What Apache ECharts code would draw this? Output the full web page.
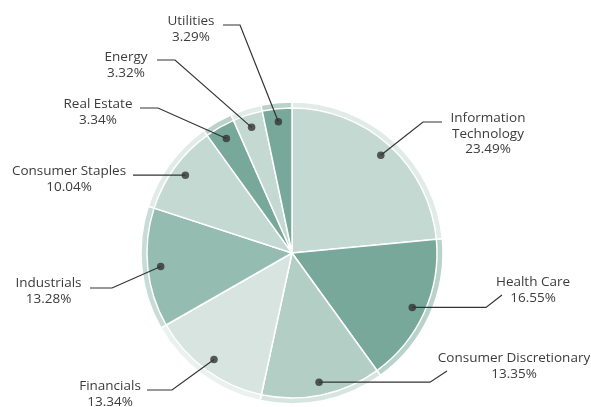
<!DOCTYPE html>
<html>
<head>
<meta charset="utf-8">
<script src="https://cdn.jsdelivr.net/npm/echarts@6/dist/echarts.min.js"></script>
<style>
html,body{margin:0;padding:0;background:#fff;}
#chart{width:591px;height:407px;}
</style>
</head>
<body>
<div id="chart"></div>
<script>
// ---- data ----
var categories = ['Information Technology','Health Care','Consumer Discretionary','Financials','Industrials','Consumer Staples','Real Estate','Energy','Utilities'];
var labelNames = ['Information\nTechnology','Health Care','Consumer Discretionary','Financials','Industrials','Consumer Staples','Real Estate','Energy','Utilities'];
var values = [23.49,16.55,13.35,13.34,13.28,10.04,3.34,3.32,3.29];

// ---- styling / layout (not data) ----
var colors = ['#c5d9d3','#78a899','#b2cec5','#d7e4e0','#94bcb0','#c5d9d3','#78a899','#c5d9d3','#78a899'];
var labelCenters = [[488,134],[533,290],[514,366],[110,394],[48.5,291],[69,179],[98,112],[126,65],[191,29]];
var lineBends = [
  [[423,122],[442,122]],
  [[486,null],[502,295]],
  [[430,null],[447,371]],
  [[172,390],[147,390]],
  [[112,288],[90,288]],
  [[150,null],[133,null]],
  [[158,108],[140,108]],
  [[175,60],[157,60]],
  [[240,25],[223,25]]
];
var CX = 292, CY = 253, R_OUT = 151, R_IN = 145, R_DOT = 132;

function hexA(h,a){var r=parseInt(h.slice(1,3),16),g=parseInt(h.slice(3,5),16),b=parseInt(h.slice(5,7),16);return 'rgba('+r+','+g+','+b+','+a+')';}

var total = values.reduce(function(s,v){return s+v;},0);
var cum = 0;
var dotData = values.map(function(v){var mid = (cum + v/2)/total*100; cum += v; return [R_DOT, mid];});

var ringData = categories.map(function(c,i){return {name:c, value:values[i], itemStyle:{color:hexA(colors[i],0.52)}};});
var mainData = categories.map(function(c,i){return {name:c, value:values[i], itemStyle:{color:colors[i]}};});
var labelData = categories.map(function(c,i){return {name:c, value:values[i], label:{formatter: labelNames[i] + '\n' + values[i].toFixed(2) + '%'}};});

var chart = echarts.init(document.getElementById('chart'), null, {renderer:'canvas'});
chart.setOption({
  animation:false,
  backgroundColor:'#ffffff',
  polar:{center:[CX,CY], radius:R_OUT},
  angleAxis:{type:'value', min:0, max:100, startAngle:90, clockwise:true, show:false},
  radiusAxis:{type:'value', min:0, max:R_OUT, show:false},
  series:[
    {type:'pie', center:[CX,CY], radius:[0,R_OUT], startAngle:90, clockwise:true, silent:true,
     label:{show:false}, labelLine:{show:false},
     itemStyle:{borderColor:'#fff', borderWidth:1.5}, data:ringData, z:1},
    {type:'pie', center:[CX,CY], radius:[0,R_IN], startAngle:90, clockwise:true, silent:true,
     label:{show:false}, labelLine:{show:false},
     itemStyle:{borderColor:'#fff', borderWidth:1.5}, data:mainData, z:2},
    {type:'pie', center:[CX,CY], radius:[0,R_DOT], startAngle:90, clockwise:true, silent:true,
     avoidLabelOverlap:false,
     itemStyle:{color:'rgba(0,0,0,0)', borderWidth:0},
     label:{show:true, position:'outside', fontFamily:'Open Sans', fontSize:13.5, color:'#3c3c3c', lineHeight:15.5, align:'center'},
     labelLine:{show:true, length:10, length2:10, lineStyle:{color:'#333', width:1.2}},
     labelLayout:function(p){
       var i = p.dataIndex;
       var start = p.labelLinePoints ? p.labelLinePoints[0] : [CX,CY];
       var b = lineBends[i];
       var p1 = [b[0][0], b[0][1]==null ? start[1] : b[0][1]];
       var p2 = [b[1][0], b[1][1]==null ? start[1] : b[1][1]];
       return {x:labelCenters[i][0], y:labelCenters[i][1], align:'center', verticalAlign:'middle',
               labelLinePoints:[start, p1, p2]};
     },
     data:labelData, z:3},
    {type:'scatter', coordinateSystem:'polar', symbol:'circle', symbolSize:7.5, silent:true,
     itemStyle:{color:'#333'}, data:dotData, z:10}
  ]
});
</script>
</body>
</html>
